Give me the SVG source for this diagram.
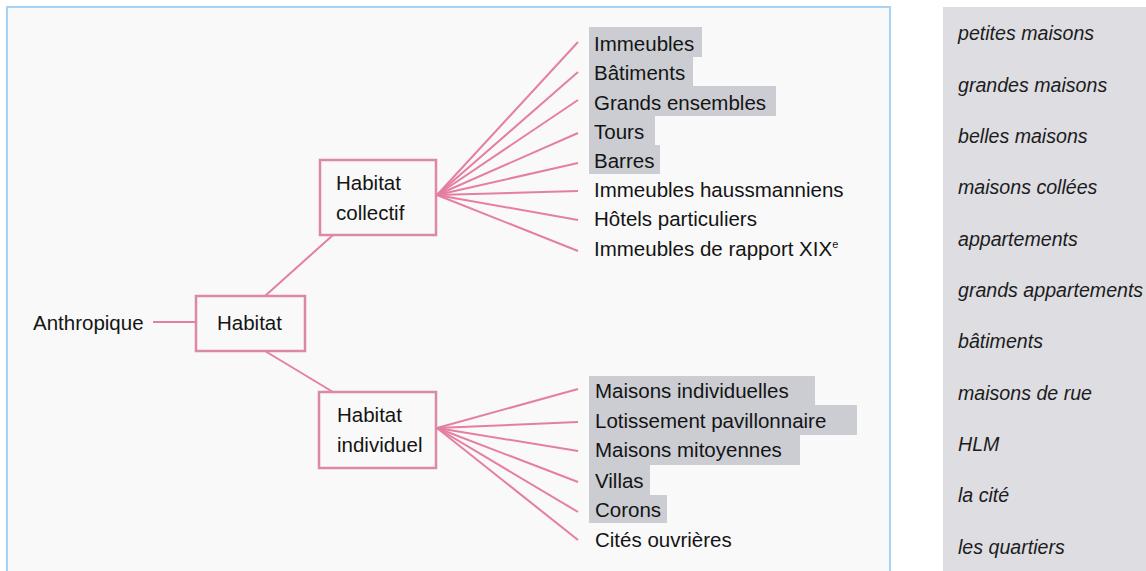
<svg xmlns="http://www.w3.org/2000/svg" width="1146" height="571" viewBox="0 0 1146 571">
<style>
.t{font-family:"Liberation Sans",Arial,sans-serif;font-size:20.5px;fill:#141414}
.i{font-family:"Liberation Sans",Arial,sans-serif;font-size:19.6px;font-style:italic;fill:#1c1c1c}
.box{fill:none;stroke:#dc8aa4;stroke-width:2.5}
.ln{stroke:#e57fa0;stroke-width:2;fill:none}
.hl{fill:#cbcdd3}
</style>
<rect x="0" y="0" width="1146" height="571" fill="#ffffff"/>
<rect x="7" y="7" width="883" height="580" fill="#f9f9f9" stroke="#a9d3f3" stroke-width="2"/>
<rect x="943" y="7" width="203" height="564" fill="#dddde2"/>
<g id="highlights">
<rect class="hl" x="589" y="27" width="113" height="30"/>
<rect class="hl" x="589" y="56" width="104" height="31"/>
<rect class="hl" x="589" y="86" width="187" height="30"/>
<rect class="hl" x="589" y="115" width="66" height="31"/>
<rect class="hl" x="589" y="145" width="71" height="29"/>
<rect class="hl" x="589" y="376" width="226" height="30"/>
<rect class="hl" x="589" y="405" width="268" height="30"/>
<rect class="hl" x="589" y="434" width="211" height="31"/>
<rect class="hl" x="589" y="464" width="61" height="32"/>
<rect class="hl" x="589" y="495" width="78" height="28"/>
</g>
<g id="connectors">
<line class="ln" x1="153" y1="322" x2="196" y2="322"/>
<line class="ln" x1="265" y1="296" x2="333" y2="235"/>
<line class="ln" x1="265" y1="351" x2="333" y2="392"/>
<g>
<line class="ln" x1="437" y1="195" x2="578" y2="42"/>
<line class="ln" x1="437" y1="195" x2="578" y2="72"/>
<line class="ln" x1="437" y1="195" x2="578" y2="100"/>
<line class="ln" x1="437" y1="195" x2="578" y2="133"/>
<line class="ln" x1="437" y1="195" x2="578" y2="163"/>
<line class="ln" x1="437" y1="195" x2="578" y2="191"/>
<line class="ln" x1="437" y1="195" x2="578" y2="220"/>
<line class="ln" x1="437" y1="195" x2="578" y2="251"/>
</g>
<g>
<line class="ln" x1="437" y1="428" x2="578" y2="389"/>
<line class="ln" x1="437" y1="428" x2="578" y2="422"/>
<line class="ln" x1="437" y1="428" x2="578" y2="451"/>
<line class="ln" x1="437" y1="428" x2="578" y2="482"/>
<line class="ln" x1="437" y1="428" x2="578" y2="512"/>
<line class="ln" x1="437" y1="428" x2="578" y2="540"/>
</g>
</g>
<g id="anthropique"><text class="t" x="33" y="330">Anthropique</text></g>
<g id="habitat">
<rect class="box" x="196" y="296" width="109" height="55" fill="#f9f9f9"/>
<text class="t" x="217" y="330">Habitat</text>
</g>
<g id="habitat-collectif">
<rect class="box" x="320" y="160" width="116" height="75"/>
<text class="t" x="336" y="190">Habitat</text>
<text class="t" x="336" y="220">collectif</text>
</g>
<g id="habitat-individuel">
<rect class="box" x="319" y="392" width="117" height="76"/>
<text class="t" x="337" y="422">Habitat</text>
<text class="t" x="337" y="452">individuel</text>
</g>
<g id="collectif-items">
<text class="t" x="594" y="51">Immeubles</text>
<text class="t" x="594" y="80">Bâtiments</text>
<text class="t" x="594" y="110">Grands ensembles</text>
<text class="t" x="594" y="139">Tours</text>
<text class="t" x="594" y="168">Barres</text>
<text class="t" x="594" y="197">Immeubles haussmanniens</text>
<text class="t" x="594" y="226">Hôtels particuliers</text>
<text class="t" x="594" y="256">Immeubles de rapport XIX<tspan font-size="11" dy="-8">e</tspan></text>
</g>
<g id="individuel-items">
<text class="t" x="595" y="398">Maisons individuelles</text>
<text class="t" x="595" y="428">Lotissement pavillonnaire</text>
<text class="t" x="595" y="457">Maisons mitoyennes</text>
<text class="t" x="595" y="488">Villas</text>
<text class="t" x="595" y="517">Corons</text>
<text class="t" x="595" y="547">Cités ouvrières</text>
</g>
<g id="terms">
<text class="i" x="958" y="40">petites maisons</text>
<text class="i" x="958" y="92">grandes maisons</text>
<text class="i" x="958" y="143">belles maisons</text>
<text class="i" x="958" y="194">maisons collées</text>
<text class="i" x="958" y="246">appartements</text>
<text class="i" x="958" y="297">grands appartements</text>
<text class="i" x="958" y="348">bâtiments</text>
<text class="i" x="958" y="400">maisons de rue</text>
<text class="i" x="958" y="451">HLM</text>
<text class="i" x="958" y="502">la cité</text>
<text class="i" x="958" y="554">les quartiers</text>
</g>
</svg>
